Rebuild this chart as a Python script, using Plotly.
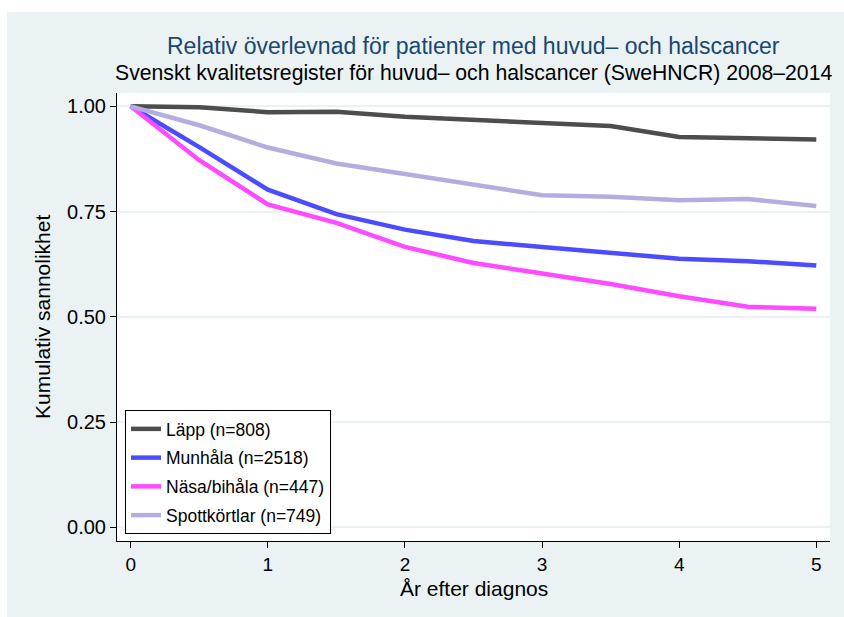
import plotly.graph_objects as go

years = [0, 0.5, 1, 1.5, 2, 2.5, 3, 3.5, 4, 4.5, 5]
lapp = [1.0, 0.998, 0.986, 0.987, 0.975, 0.968, 0.959, 0.953, 0.927, 0.923, 0.921]
munhala = [1.0, 0.903, 0.802, 0.744, 0.707, 0.680, 0.666, 0.652, 0.638, 0.632, 0.622]
nasa = [1.0, 0.872, 0.767, 0.723, 0.666, 0.628, 0.603, 0.578, 0.549, 0.524, 0.519]
spott = [1.0, 0.955, 0.902, 0.864, 0.839, 0.815, 0.789, 0.785, 0.777, 0.780, 0.763]

series_names = ["Läpp (n=808)", "Munhåla (n=2518)", "Näsa/bihåla (n=447)", "Spottkörtlar (n=749)"]
series_values = [lapp, munhala, nasa, spott]
series_colors = ["#4d4d4d", "#4b4bff", "#ff4bff", "#b4aee0"]

x_ticks = [0, 1, 2, 3, 4, 5]
y_ticks = [0, 0.25, 0.5, 0.75, 1.0]
y_tick_labels = ["0.00", "0.25", "0.50", "0.75", "1.00"]

title = "Relativ överlevnad för patienter med huvud– och halscancer"
subtitle = "Svenskt kvalitetsregister för huvud– och halscancer (SweHNCR) 2008–2014"
x_title = "År efter diagnos"
y_title = "Kumulativ sannolikhet"

FONT = "Liberation Sans, Arial, Helvetica, sans-serif"
BG = "#eaf2f3"

W, H = 844, 617
ML, MR, MT, MB = 117, 14, 93, 76
PW = W - ML - MR
PH = H - MT - MB

fig = go.Figure()
for i, (name, vals, col) in enumerate(zip(series_names, series_values, series_colors)):
    fig.add_trace(go.Scatter(
        x=years, y=vals, mode="lines", name=name,
        line=dict(color=col, width=4.5),
        legendgroup=f"g{i}",
    ))

# outer graph region background (with small white margin at left/top)
fig.add_shape(type="rect", xref="paper", yref="paper",
              x0=(7 - ML) / PW, x1=(W - ML) / PW,
              y0=-(MB) / PH, y1=(H - 12 - MB) / PH,
              fillcolor=BG, line=dict(width=0), layer="below")
fig.add_shape(type="rect", xref="paper", yref="paper",
              x0=0, x1=1, y0=0, y1=1,
              fillcolor="white", line=dict(width=0), layer="below")

fig.update_layout(
    width=W, height=H,
    margin=dict(l=ML, r=MR, t=MT, b=MB),
    paper_bgcolor="white",
    plot_bgcolor="white",
    font=dict(family=FONT, size=16, color="black"),
    showlegend=True,
    legend=dict(
        x=(125 - ML) / PW, y=(541 - 534) / PH,
        xanchor="left", yanchor="bottom",
        bgcolor="white", bordercolor="black", borderwidth=1,
        font=dict(family=FONT, size=17.5, color="black"),
        tracegroupgap=3,
        traceorder="grouped",
        itemwidth=30,
    ),
    annotations=[
        dict(text=title, xref="paper", yref="paper",
             x=0.5, y=(H - 46 - MB) / PH, xanchor="center", yanchor="middle",
             showarrow=False, font=dict(family=FONT, size=23, color="#1a476f")),
        dict(text=subtitle, xref="paper", yref="paper",
             x=0.5, y=(H - 73 - MB) / PH, xanchor="center", yanchor="middle",
             showarrow=False, font=dict(family=FONT, size=21.2, color="black")),
        dict(text=x_title, xref="paper", yref="paper",
             x=0.5, y=-(588 - 541) / PH, xanchor="center", yanchor="middle",
             showarrow=False, font=dict(family=FONT, size=21, color="black")),
        dict(text=y_title, xref="paper", yref="paper",
             x=-(ML - 42) / PW, y=(541 - 317) / PH, xanchor="center", yanchor="middle",
             textangle=-90,
             showarrow=False, font=dict(family=FONT, size=21, color="black")),
    ],
)

fig.update_xaxes(
    range=[-0.1, 5.1], tickvals=x_ticks, ticktext=[str(t) for t in x_ticks],
    showgrid=False, zeroline=False,
    showline=True, linecolor="black", linewidth=1,
    ticks="outside", ticklen=6, tickcolor="black", tickwidth=1,
    tickfont=dict(size=19), ticklabelstandoff=0,
)
fig.update_yaxes(
    range=[-0.0325, 1.0316], tickvals=y_ticks, ticktext=y_tick_labels,
    showgrid=True, gridcolor=BG, gridwidth=1.5, zeroline=False,
    showline=True, linecolor="black", linewidth=1,
    ticks="outside", ticklen=6, tickcolor="black", tickwidth=1,
    tickfont=dict(size=20),
)

fig.write_html("out.html")
